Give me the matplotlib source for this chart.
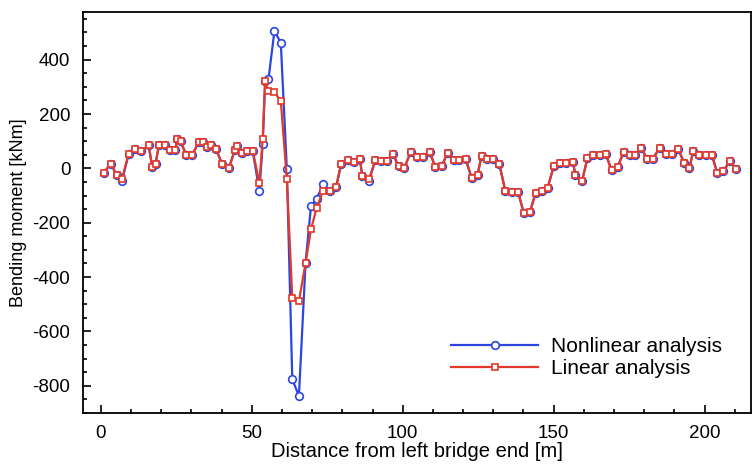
import numpy as np
import matplotlib
matplotlib.use("Agg")
import matplotlib.pyplot as plt
from matplotlib.ticker import MultipleLocator

# distance along bridge [m]
dist = [1.0, 3.2, 5.2, 7.0, 9.2, 11.2, 13.4, 15.8, 17.0, 18.1, 19.2, 21.1, 22.9, 24.6, 25.3,
        26.4, 28.3, 30.2, 32.4, 33.9, 35.3, 36.6, 38.1, 40.1, 42.4, 44.3, 45.2, 46.7, 48.5,
        50.3, 52.5, 53.6, 54.4, 55.5, 57.5, 59.6, 61.6, 63.4, 65.6, 67.8, 69.6, 71.5, 73.6,
        75.8, 77.9, 79.6, 81.7, 83.7, 85.8, 86.6, 88.8, 90.9, 92.9, 94.9, 96.7, 98.6, 100.5,
        102.6, 104.7, 106.8, 108.9, 110.8, 112.9, 114.9, 116.9, 118.8, 120.8, 122.8, 124.8,
        126.1, 128.0, 130.0, 132.0, 134.0, 136.2, 138.2, 140.1, 142.1, 144.0, 146.0, 148.0,
        150.0, 152.0, 154.2, 156.4, 157.2, 159.4, 161.2, 163.0, 165.2, 167.2, 169.2, 171.2,
        173.2, 175.2, 177.1, 179.1, 181.0, 182.9, 185.1, 187.1, 189.1, 191.3, 193.2, 195.0,
        196.2, 198.2, 200.4, 202.4, 204.2, 206.2, 208.3, 210.5]

# bending moment [kNm]
linear = [-16, 17, -23, -38, 54, 70, 62, 85, 5, 17, 85, 85, 66, 66, 107,
          99, 48, 48, 97, 97, 78, 87, 72, 17, 1, 66, 82, 58, 65,
          65, -54, 109, 321, 284, 281, 247, -40, -477, -489, -348, -224, -145, -83,
          -83, -70, 17, 31, 22, 35, -30, -41, 30, 28, 28, 54, 8, 0,
          60, 42, 42, 60, 5, 8, 58, 32, 32, 35, -34, -23,
          46, 36, 36, 16, -84, -87, -87, -164, -162, -91, -83, -72,
          7, 20, 20, 23, -26, -47, 38, 50, 50, 54, -7, 5,
          60, 48, 48, 75, 33, 36, 75, 54, 54, 70, 21, 1,
          62, 50, 50, 50, -17, -11, 26, -1]

nonlinear = [-16, 17, -23, -45, 54, 70, 62, 85, 5, 17, 85, 85, 66, 66, 107,
             99, 48, 48, 97, 97, 78, 87, 72, 17, 1, 66, 82, 58, 65,
             62, -83, 91, 320, 327, 507, 461, -4, -777, -838, -348, -139, -111, -59,
             -83, -70, 17, 31, 22, 35, -30, -46, 30, 28, 28, 54, 8, 0,
             60, 42, 42, 60, 5, 8, 58, 32, 32, 35, -34, -23,
             46, 36, 36, 16, -84, -87, -87, -164, -162, -91, -83, -72,
             7, 20, 20, 23, -26, -47, 38, 50, 50, 54, -7, 5,
             60, 48, 48, 75, 33, 36, 75, 54, 54, 70, 21, 1,
             62, 50, 50, 50, -17, -11, 26, -1]

plt.rcParams['font.family'] = ['Liberation Sans', 'DejaVu Sans']
plt.rcParams['axes.unicode_minus'] = False

fig = plt.figure(figsize=(7.53, 4.66), dpi=100)
ax = fig.add_axes([0.110, 0.114, 0.887, 0.860])

ax.plot(dist, nonlinear, color='#2b46e0', lw=1.6, marker='o', ms=5.5,
        mfc='white', mec='#2b46e0', mew=1.2, label='Nonlinear analysis')
ax.plot(dist, linear, color='#e2392b', lw=1.6, marker='s', ms=5,
        mfc='white', mec='#e2392b', mew=1.2, label='Linear analysis')

ax.set_xlim(-6, 215.3)
ax.set_ylim(-900, 575)
ax.xaxis.set_major_locator(MultipleLocator(50))
ax.xaxis.set_minor_locator(MultipleLocator(10))
ax.yaxis.set_major_locator(MultipleLocator(200))
ax.yaxis.set_minor_locator(MultipleLocator(50))
ax.tick_params(which='both', direction='in', labelsize=13.5, width=1.2)
ax.tick_params(which='major', length=6, pad=9)
ax.tick_params(which='minor', length=3)
for s in ax.spines.values():
    s.set_linewidth(1.3)

ax.set_xlabel('Distance from left bridge end [m]', fontsize=14.5, labelpad=0)
ax.set_ylabel('Bending moment [kNm]', fontsize=13, labelpad=4)

ax.legend(loc='lower right', bbox_to_anchor=(0.985, 0.04), frameon=False, fontsize=15,
          handlelength=4.2, handletextpad=0.6, labelspacing=0.15)

fig.savefig('out.png', dpi=100)
